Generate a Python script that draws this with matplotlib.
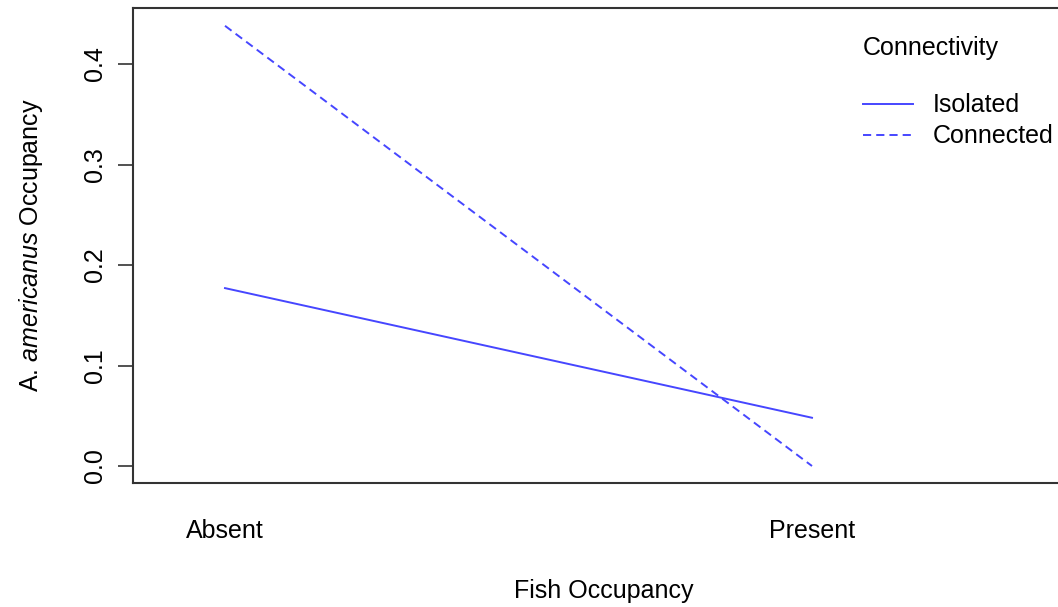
import numpy as np
import matplotlib.pyplot as plt

plt.rcParams['font.family'] = ['Liberation Sans', 'DejaVu Sans']
plt.rcParams['mathtext.fontset'] = 'custom'
plt.rcParams['mathtext.rm'] = 'Liberation Sans'
plt.rcParams['mathtext.it'] = 'Liberation Sans:italic'

fish = ["Absent", "Present"]
isolated = [0.177, 0.048]
connected = [0.438, 0.0]
yticks = [0.0, 0.1, 0.2, 0.3, 0.4]

W, H = 1058, 607
fs = 18
fig = plt.figure(figsize=(W / 100, H / 100), dpi=100)
# axes box in pixels: left 133, top 8, bottom 483, right runs past the image edge
ax = fig.add_axes([133 / W, (H - 483) / H, (1075 - 133) / W, (483 - 8) / H])

col = '#4646ff'
x = np.arange(1, len(fish) + 1)
l1, = ax.plot(x, isolated, color=col, lw=1.4, ls='-')
l2, = ax.plot(x, connected, color=col, lw=1.4, ls=(0, (4.2, 2.6)))

ax.set_xlim(1 - 92 / 587, 2 + (1075 - 812) / 587)
ax.set_ylim(-(483 - 466) / 1005, (466 - 8) / 1005)

ax.set_yticks(yticks)
ax.set_yticklabels([f"{v:.1f}" for v in yticks], rotation=90, va='center', fontsize=fs)
ax.tick_params(axis='y', length=11, width=1.2, pad=8, color='#333333')
ax.set_xticks(x)
ax.set_xticklabels(fish, fontsize=fs)
ax.tick_params(axis='x', length=0, pad=26)

for s in ax.spines.values():
    s.set_linewidth(1.5)
    s.set_color('#333333')
ax.spines['right'].set_visible(False)

ax.set_xlabel("Fish Occupancy", fontsize=fs, labelpad=26)
ax.set_ylabel(r"A. $\it{americanus}$ Occupancy", fontsize=fs, labelpad=27)

leg = ax.legend([l1, l2], ["Isolated", "Connected"], title="Connectivity",
                loc='upper left', bbox_to_anchor=(853 / W, 1 - 26 / H),
                bbox_transform=fig.transFigure, frameon=False, fontsize=fs,
                title_fontsize=fs, handlelength=2.0, handletextpad=0.8,
                labelspacing=0.28, borderaxespad=0)
leg._legend_box.align = 'left'
leg._legend_box.sep = 24

fig.savefig("out.png", dpi=100)
